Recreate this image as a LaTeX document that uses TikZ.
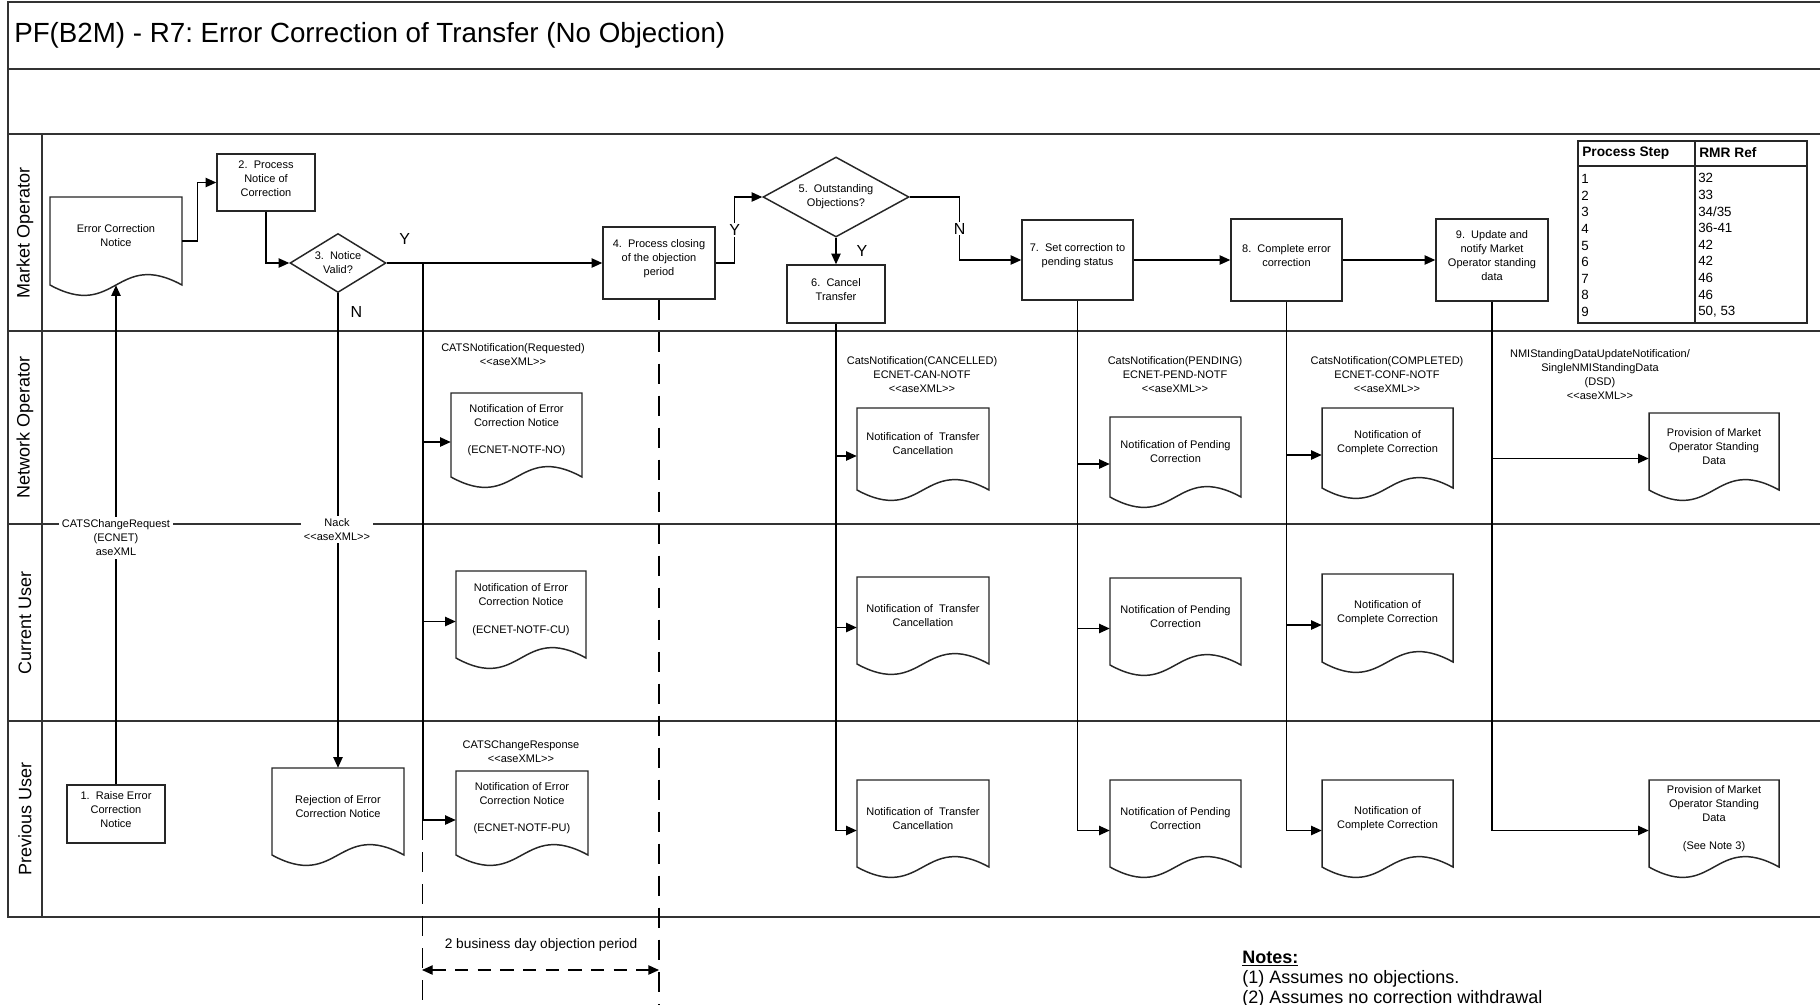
\documentclass[tikz,border=0pt]{standalone}
\usepackage{fontspec}
\setmainfont{Liberation Sans}
\frenchspacing
\usetikzlibrary{arrows.meta,shapes.geometric,fit,calc}
\newcommand\fsm{\fontsize{8.25pt}{10.5pt}\selectfont}
\newcommand\ftitle{\fontsize{20.8pt}{24pt}\selectfont}
\newcommand\flane{\fontsize{13.5pt}{16pt}\selectfont}
\newcommand\fyn{\fontsize{12pt}{14pt}\selectfont}
\newcommand\ftab{\fontsize{10pt}{12.45pt}\selectfont}
\newcommand\ftabb{\fontsize{10.3pt}{12.45pt}\selectfont\bfseries}
\newcommand\fper{\fontsize{10.3pt}{12pt}\selectfont}
\newcommand\fnote{\fontsize{13.5pt}{15pt}\selectfont}
\newcommand\docnode[6]{%
  \draw[docline] (#2,#4) -- (#3,#4) -- (#3,#5) .. controls ({(#2+#3)/2},{#5-36}) and ({(#2+#3)/2},{#5+36}) .. (#2,#5) -- cycle;
  \node[fit={(#2,#4) (#3,#5)}, inner sep=0pt] (#1) {};
  \node[txt] (#1-t) at ([yshift=3.75pt]#1.center) {#6};
  \coordinate (#1-in) at ([yshift=-5.25pt]#1.west);
}
\tikzset{
 frame/.style={draw=black!80, line width=1.5pt},
 box/.style={draw=black!85, line width=1.1pt, inner sep=0pt, align=center, font=\fsm},
 dia/.style={diamond, draw=black!85, line width=1.1pt, inner sep=0pt, align=center, font=\fsm},
 docline/.style={draw=black!85, line width=1.1pt, fill=white},
 txt/.style={align=center, font=\fsm, inner sep=0pt},
 lbl/.style={align=center, font=\fsm, inner sep=2pt},
 conn/.style={draw=black, line width=1pt},
 arr/.style={conn, -{Triangle[length=8pt, width=7pt]}},
 thk/.style={draw=black, line width=1.8pt},
 dsh/.style={draw=black, line width=1pt, dash pattern=on 15pt off 9pt},
 dsharr/.style={draw=black, line width=1pt, dash pattern=on 10pt off 7pt, {Triangle[length=8pt,width=7pt]}-{Triangle[length=8pt,width=7pt]}},
 yn/.style={font=\fyn, inner sep=0pt},
 tbl/.style={draw=black!85, line width=1.3pt},
}
\begin{document}
\begin{tikzpicture}[x=0.75pt,y=-0.75pt]
\useasboundingbox (0,0) rectangle (1820,1004);
\clip (0,0) rectangle (1820,1004);
\fill[white] (0,0) rectangle (1820,1004);

% frame and swimlanes
\draw[frame] (8,2) rectangle (1840,917);
\draw[frame] (8,69) -- (1840,69);
\draw[frame] (8,134) -- (1840,134);
\draw[frame] (8,331) -- (1840,331);
\draw[frame] (8,524) -- (1840,524);
\draw[frame] (8,721) -- (1840,721);
\draw[frame] (42,134) -- (42,917);

\node[anchor=west, font=\ftitle, inner sep=0pt] (title) at (14,35) {PF(B2M) - R7: Error Correction of Transfer (No Objection)};
\node[rotate=90, font=\flane] (lMO) at (25,232.5) {Market Operator};
\node[rotate=90, font=\flane] (lNO) at (25,427.5) {Network Operator};
\node[rotate=90, font=\flane] (lCU) at (25,622.5) {Current User};
\node[rotate=90, font=\flane] (lPU) at (25,819) {Previous User};

% process boxes
\node[box, fit={(67,785) (165,843)}] (b1) {1.~ Raise Error\\Correction\\Notice};
\node[box, fit={(217,154) (315,211)}] (b2) {2.~ Process\\Notice of\\Correction};
\node[box, fit={(603,227) (715,299)}] (b4) {4.~ Process closing\\of the objection\\period};
\node[box, fit={(787,265) (885,323)}] (b6) {6.~ Cancel\\Transfer};
\node[box, fit={(1022,220) (1133,300)}] (b7) {7.~ Set correction to\\pending status};
\node[box, fit={(1231,219) (1342,301)}] (b8) {8.~ Complete error\\correction};
\node[box, fit={(1436,219) (1548,301)}] (b9) {9.~ Update and\\notify Market\\Operator standing\\data};
\node[dia, minimum width=72pt, minimum height=44.25pt, aspect=1.6] (d3) at (338,263) {3.~ Notice\\Valid?};
\node[dia, minimum width=109.5pt, minimum height=60pt, aspect=1.8] (d5) at (836,197) {5.~ Outstanding\\Objections?};

% documents
\docnode{ecn}{50}{182}{197}{285}{Error Correction\\Notice}
\docnode{noNO}{451}{582}{393}{477}{Notification of Error\\Correction Notice\\[10pt](ECNET-NOTF-NO)}
\docnode{noCU}{456}{586}{571}{658}{Notification of Error\\Correction Notice\\[10pt](ECNET-NOTF-CU)}
\docnode{noPU}{456}{588}{771}{855}{Notification of Error\\Correction Notice\\[10pt](ECNET-NOTF-PU)}
\docnode{rej}{272}{404}{768}{855}{Rejection of Error\\Correction Notice}
\docnode{canNO}{857}{989}{408}{490}{Notification of~ Transfer\\Cancellation}
\docnode{canCU}{857}{989}{577}{664}{Notification of~ Transfer\\Cancellation}
\docnode{canPU}{857}{989}{780}{867}{Notification of~ Transfer\\Cancellation}
\docnode{pendNO}{1110}{1241}{417}{497}{Notification of Pending\\Correction}
\docnode{pendCU}{1110}{1241}{578}{665}{Notification of Pending\\Correction}
\docnode{pendPU}{1110}{1241}{780}{867}{Notification of Pending\\Correction}
\docnode{compNO}{1322}{1453}{408}{488}{Notification of\\Complete Correction}
\docnode{compCU}{1322}{1453}{574}{662}{Notification of\\Complete Correction}
\docnode{compPU}{1322}{1453}{780}{867}{Notification of\\Complete Correction}
\docnode{provNO}{1649}{1779}{413}{490}{Provision of Market\\Operator Standing\\Data}
\docnode{provPU}{1649}{1779}{780}{867}{Provision of Market\\Operator Standing\\Data\\[10pt](See Note 3)}

% connectors
\draw[arr] (ecn.east) -- ++(15,0) |- (b2.west);
\draw[arr] (b2.south) |- (d3.west);
\coordinate (j1) at ([xshift=27pt]d3.east);
\draw[thk] (d3.east) -- node[yn, above=13pt]{Y} (j1);
\draw[arr] (j1) -- (b4.west);
\draw[thk] (j1) -- (j1 |- noPU-in);
\draw[arr] (j1 |- noNO-in) -- (noNO-in);
\draw[arr] (j1 |- noCU-in) -- (noCU-in);
\draw[arr] (j1 |- noPU-in) -- (noPU-in);
\draw[dsh] (j1 |- noPU-in) -- ++(0,220);
\draw[dsh] (b4.south) -- ++(0,720);
\coordinate (perL) at (422,970);
\coordinate (perR) at (b4.south |- perL);
\draw[dsharr] (perL) -- (perR);
\node[font=\fper] (pertxt) at (541,945) {2 business day objection period};

\draw[arr] (d3.south) -- node[yn, pos=0.04, right=9pt]{N} (rej.north);
\draw[arr] (b1.north) -- (ecn.south);
\draw[arr] (b4.east) -- ++(19,0) |- node[yn, pos=0.25, fill=white, inner sep=1pt]{Y} (d5.west);
\draw[arr] (d5.south) -- node[yn, right=15pt]{Y} (b6.north);
\draw[arr] (d5.east) -- ++(50,0) |- node[yn, pos=0.25, fill=white, inner sep=1pt]{N} (b7.west);
\draw[arr] (b7.east) -- (b8.west);
\draw[arr] (b8.east) -- (b9.west);

\draw[arr] (b6.south) |- (canPU-in);
\draw[arr] (b6.south |- canNO-in) -- (canNO-in);
\draw[arr] (b6.south |- canCU-in) -- (canCU-in);
\draw[arr] (b7.south) |- (pendPU-in);
\draw[arr] (b7.south |- pendNO-in) -- (pendNO-in);
\draw[arr] (b7.south |- pendCU-in) -- (pendCU-in);
\draw[arr] (b8.south) |- (compPU-in);
\draw[arr] (b8.south |- compNO-in) -- (compNO-in);
\draw[arr] (b8.south |- compCU-in) -- (compCU-in);
\draw[arr] (b9.south) |- (provPU-in);
\draw[arr] (b9.south |- provNO-in) -- (provNO-in);

% message labels
\node[lbl, fill=white] (lChReq) at (116,538) {CATSChangeRequest\\(ECNET)\\aseXML};
\node[lbl, fill=white] (lNack) at (337,529.5) {Nack\\<{}<aseXML>{}>};
\node[lbl] (lReq) at (513,355) {CATSNotification(Requested)\\<{}<aseXML>{}>};
\node[lbl] (lResp) at (521,752) {CATSChangeResponse\\<{}<aseXML>{}>};
\node[lbl] (lCan) at (922,375) {CatsNotification(CANCELLED)\\ECNET-CAN-NOTF\\<{}<aseXML>{}>};
\node[lbl] (lPend) at (1175,375) {CatsNotification(PENDING)\\ECNET-PEND-NOTF\\<{}<aseXML>{}>};
\node[lbl] (lComp) at (1387,375) {CatsNotification(COMPLETED)\\ECNET-CONF-NOTF\\<{}<aseXML>{}>};
\node[lbl] (lNMI) at (1600,374.5) {NMIStandingDataUpdateNotification/\\SingleNMIStandingData\\(DSD)\\<{}<aseXML>{}>};

% reference table
\draw[tbl] (1578,141) rectangle (1807,323);
\draw[tbl] (1578,166) -- (1807,166);
\draw[tbl] (1695,141) -- (1695,323);
\node[anchor=west, font=\ftabb, inner sep=0pt] (th1) at (1582,153) {Process Step};
\node[anchor=west, font=\ftabb, inner sep=0pt] (th2) at (1699,153) {RMR Ref};
\node[anchor=west, align=left, font=\ftab, inner sep=0pt] (tc1) at (1581,245.5) {1\\2\\3\\4\\5\\6\\7\\8\\9};
\node[anchor=west, align=left, font=\ftab, inner sep=0pt] (tc2) at (1698,245.5) {32\\33\\34/35\\36-41\\42\\42\\46\\46\\50, 53};

% notes
\node[anchor=north west, align=left, font=\fnote, inner sep=0pt] (notes) at (1242,951) {\textbf{\underline{Notes:}}\\(1) Assumes no objections.\\(2) Assumes no correction withdrawal};
\end{tikzpicture}
\end{document}
